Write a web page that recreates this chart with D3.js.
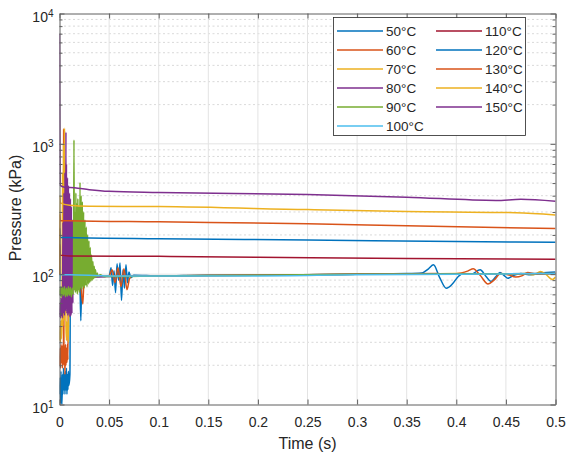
<!DOCTYPE html>
<html>
<head>
<meta charset="utf-8">
<script src="https://cdn.jsdelivr.net/npm/d3@7"></script>
<style>
  body { margin: 0; background: #fff; }
  text { font-family: "Liberation Sans", Arial, sans-serif; fill: #262626; }
</style>
</head>
<body>
<svg id="chart" width="568" height="457"></svg>
<script>
// legend labels and colours (MATLAB default order)
const temps = ["50", "60", "70", "80", "90", "100", "110", "120", "130", "140", "150"];
const colors = ["#0072BD", "#D95319", "#EDB120", "#7E2F8E", "#77AC30", "#4DBEEE",
                "#A2142F", "#0072BD", "#D95319", "#EDB120", "#7E2F8E"];

// [time (s), pressure (kPa)]
const s50 = [[0,12],[0.0005,16],[0.001,10.2],[0.0015,18],[0.002,11],[0.0025,10],[0.003,17],[0.0035,12],
  [0.004,19],[0.0045,13],[0.005,17],[0.0055,12],[0.006,18],[0.0065,13],[0.007,19],[0.0075,12],[0.008,17],
  [0.0085,13],[0.009,18],[0.0095,14],[0.0105,17],[0.011,100],[0.013,92],[0.015,108],[0.017,96],[0.019,104],
  [0.0205,90],[0.0215,44],[0.0225,98],[0.025,104],[0.028,95],[0.032,98],[0.04,96],[0.05,97],[0.052,112],
  [0.0535,82],[0.055,106],[0.0565,72],[0.058,120],[0.0595,90],[0.061,122],[0.0625,63],[0.064,108],
  [0.0655,78],[0.067,118],[0.0685,86],[0.07,104],[0.072,94],[0.075,98],[0.1,97],[0.15,98],[0.2,98],
  [0.25,99],[0.3,100],[0.35,101],[0.365,102],[0.372,110],[0.377,118],[0.383,95],[0.39,78],[0.396,84],
  [0.402,96],[0.407,101],[0.415,100],[0.424,108],[0.43,96],[0.435,88],[0.44,96],[0.444,103],[0.448,98],
  [0.452,93],[0.458,98],[0.465,101],[0.475,99],[0.485,102],[0.5,104]];
const s60 = [[0,20],[0.0005,27],[0.001,19],[0.0015,29],[0.002,21],[0.0025,28],[0.003,19],[0.0035,29],
  [0.004,20],[0.0042,1300],[0.0045,22],[0.005,28],[0.0055,17],[0.006,29],[0.0065,20],[0.007,27],[0.0075,21],
  [0.008,29],[0.0085,22],[0.009,100],[0.011,90],[0.013,115],[0.015,95],[0.018,105],[0.021,92],[0.0235,59],
  [0.025,100],[0.03,97],[0.04,96],[0.05,97],[0.053,108],[0.056,86],[0.059,112],[0.062,80],[0.065,110],
  [0.068,76],[0.0705,92],[0.073,97],[0.1,97],[0.2,98],[0.3,100],[0.38,101],[0.395,100],[0.405,102],
  [0.412,106],[0.417,110],[0.424,98],[0.432,84],[0.438,90],[0.445,101],[0.452,99],[0.46,95],[0.466,97],
  [0.472,103],[0.48,100],[0.5,101]];
const s70 = [[0,31],[0.0005,40],[0.001,30],[0.0015,44],[0.002,32],[0.0025,42],[0.003,600],[0.0035,40],
  [0.004,1000],[0.0045,44],[0.005,1320],[0.0055,50],[0.006,700],[0.0065,40],[0.007,31],[0.0075,43],
  [0.008,34],[0.0085,42],[0.009,30],[0.0095,100],[0.012,95],[0.015,104],[0.02,98],[0.03,97],[0.05,97],
  [0.1,97],[0.2,98],[0.3,100],[0.4,101],[0.45,100],[0.47,101],[0.478,99],[0.485,105],[0.49,100],
  [0.497,91],[0.5,95]];
const s80 = [[0,47],[0.0005,60],[0.001,46],[0.0015,66],[0.002,48],[0.0025,64],[0.003,46],[0.0035,250],
  [0.004,50],[0.0045,420],[0.005,48],[0.0055,600],[0.006,52],[0.0065,1230],[0.0068,55],[0.007,700],
  [0.0075,50],[0.008,550],[0.0085,48],[0.009,480],[0.0095,50],[0.01,420],[0.0105,47],[0.011,380],
  [0.0115,48],[0.012,330],[0.0125,50],[0.013,260],[0.0135,60],[0.014,180],[0.0145,90],[0.015,100],
  [0.02,96],[0.03,95],[0.05,96],[0.1,97],[0.2,98],[0.3,100],[0.5,101]];
const s90 = [[0,70],[0.0005,78],[0.001,68],[0.0015,80],[0.002,67],[0.003,79],[0.004,69],[0.005,80],
  [0.006,67],[0.007,78],[0.008,68],[0.009,80],[0.01,69],[0.011,79],[0.012,67],[0.013,78],[0.014,70],
  [0.0146,1070],[0.015,75],[0.0155,300],[0.016,72],[0.0165,420],[0.017,74],[0.0175,350],[0.018,70],
  [0.0185,380],[0.019,75],[0.0195,330],[0.02,72],[0.0207,505],[0.0212,78],[0.0218,400],[0.0225,76],
  [0.023,360],[0.0237,80],[0.0243,300],[0.025,78],[0.0257,260],[0.0263,82],[0.027,230],[0.0277,80],
  [0.0283,200],[0.029,84],[0.0297,180],[0.0303,86],[0.031,160],[0.0317,88],[0.0323,140],[0.033,90],
  [0.0337,125],[0.0343,92],[0.035,115],[0.0357,94],[0.0363,108],[0.037,95],[0.038,102],[0.039,96],
  [0.041,99],[0.045,96],[0.05,96],[0.1,97],[0.2,98],[0.3,100],[0.5,101]];
const s100 = [[0,115],[0.0004,89],[0.0008,100],[0.002,99],[0.01,99],[0.05,97],[0.1,97],[0.2,97],
  [0.3,99],[0.4,100],[0.5,101]];
const s110 = [[0,100],[0.0003,170],[0.0008,140],[0.01,138],[0.1,137],[0.2,135],[0.35,132],[0.5,130]];
const s120 = [[0,100],[0.0003,225],[0.0008,192],[0.01,191],[0.1,187],[0.25,183],[0.4,178],[0.5,176]];
const s130 = [[0,100],[0.0003,290],[0.0008,258],[0.01,257],[0.1,252],[0.25,244],[0.35,235],[0.5,224]];
const s140 = [[0,100],[0.0003,400],[0.0008,352],[0.01,338],[0.03,332],[0.1,330],[0.25,313],[0.35,303],
  [0.46,296],[0.5,285]];
const s150 = [[0,7000],[0.0003,1500],[0.0007,480],[0.005,465],[0.015,460],[0.03,445],[0.05,432],
  [0.1,423],[0.25,408],[0.35,390],[0.44,368],[0.465,375],[0.5,362]];
const series = [s50, s60, s70, s80, s90, s100, s110, s120, s130, s140, s150];

const xTicks = [0, 0.05, 0.1, 0.15, 0.2, 0.25, 0.3, 0.35, 0.4, 0.45, 0.5];
const xTickLabels = ["0", "0.05", "0.1", "0.15", "0.2", "0.25", "0.3", "0.35", "0.4", "0.45", "0.5"];
const yTicks = [10, 100, 1000, 10000];
const yTickExp = ["1", "2", "3", "4"];

const svg = d3.select("#chart");
const L = 59.5, R = 555.5, T = 13.5, B = 404.5;
const x = d3.scaleLinear().domain([0, 0.5]).range([L, R]);
const y = d3.scaleLog().domain([10, 10000]).range([B, T]);
const yMinor = y.ticks().filter(v => yTicks.indexOf(v) < 0);
const axisCol = "#5f5f5f";

// grid
const grid = svg.append("g");
grid.selectAll(".mg").data(yMinor).join("line")
  .attr("x1", L).attr("x2", R).attr("y1", d => y(d)).attr("y2", d => y(d))
  .attr("stroke", "#cfcfcf").attr("stroke-width", 0.8).attr("stroke-dasharray", "2,2.5");
grid.selectAll(".gx").data(xTicks.slice(1, -1)).join("line")
  .attr("x1", d => x(d)).attr("x2", d => x(d)).attr("y1", T).attr("y2", B)
  .attr("stroke", "#e3e3e3").attr("stroke-width", 1);
grid.selectAll(".gy").data(yTicks.slice(1, -1)).join("line")
  .attr("x1", L).attr("x2", R).attr("y1", d => y(d)).attr("y2", d => y(d))
  .attr("stroke", "#e3e3e3").attr("stroke-width", 1);

// lines
svg.append("clipPath").attr("id", "clip").append("rect")
  .attr("x", L).attr("y", T).attr("width", R - L).attr("height", B - T);
const line = d3.line().x(d => x(d[0])).y(d => y(d[1])).curve(d3.curveMonotoneX);
svg.append("g").attr("clip-path", "url(#clip)")
  .selectAll("path").data(series).join("path")
  .attr("d", line).attr("fill", "none")
  .attr("stroke", (d, i) => colors[i]).attr("stroke-width", 1.5)
  .attr("stroke-linejoin", "round");

// axes
function style(g) {
  g.select(".domain").attr("stroke", axisCol);
  g.selectAll(".tick line").attr("stroke", axisCol);
  g.selectAll(".tick text").attr("fill", "#262626");
}
svg.append("g").attr("transform", `translate(0,${B})`)
  .call(d3.axisBottom(x).tickValues(xTicks).tickFormat((d, i) => xTickLabels[i])
    .tickSizeInner(-5).tickSizeOuter(0).tickPadding(13))
  .call(style)
  .call(g => g.selectAll("text").attr("font-size", "14px").attr("font-family", null));
svg.append("g").attr("transform", `translate(0,${T})`)
  .call(d3.axisTop(x).tickValues(xTicks).tickFormat("").tickSizeInner(-5).tickSizeOuter(0))
  .call(style);
svg.append("g").attr("transform", `translate(${L},0)`)
  .call(d3.axisLeft(y).tickValues(yTicks).tickFormat("").tickSizeInner(-5).tickSizeOuter(0).tickPadding(6))
  .call(style)
  .call(g => g.selectAll(".tick text").each(function(d, i) {
    const t = d3.select(this).attr("font-size", "14px").attr("font-family", null).attr("dy", "0.55em");
    t.append("tspan").text("10");
    t.append("tspan").attr("dy", "-5").attr("font-size", "10px").text(yTickExp[i]);
  }));
svg.append("g").attr("transform", `translate(${L},0)`)
  .call(d3.axisLeft(y).tickValues(yMinor).tickFormat("").tickSizeInner(-3).tickSizeOuter(0))
  .call(style).call(g => g.select(".domain").remove());
svg.append("g").attr("transform", `translate(${R},0)`)
  .call(d3.axisRight(y).tickValues(yTicks).tickFormat("").tickSizeInner(-5).tickSizeOuter(0))
  .call(style);
svg.append("g").attr("transform", `translate(${R},0)`)
  .call(d3.axisRight(y).tickValues(yMinor).tickFormat("").tickSizeInner(-3).tickSizeOuter(0))
  .call(style).call(g => g.select(".domain").remove());

// axis titles
svg.append("text").attr("x", (L + R) / 2).attr("y", 449).attr("text-anchor", "middle")
  .attr("font-size", "16px").text("Time (s)");
svg.append("text").attr("transform", "translate(21,208) rotate(-90)").attr("text-anchor", "middle")
  .attr("font-size", "16px").text("Pressure (kPa)");

// legend
const lg = svg.append("g");
lg.append("rect").attr("x", 333.5).attr("y", 17.5).attr("width", 192).attr("height", 118)
  .attr("fill", "#fff").attr("stroke", "#262626").attr("stroke-width", 0.8);
const items = lg.selectAll(".item").data(temps).join("g")
  .attr("transform", (d, i) => `translate(${i < 6 ? 337 : 436},${31 + (i < 6 ? i : i - 6) * 19})`);
items.append("line").attr("x1", 0).attr("x2", 46).attr("y1", 0).attr("y2", 0)
  .attr("stroke", (d, i) => colors[i]).attr("stroke-width", 1.5);
items.append("text").attr("x", 49).attr("y", 5).attr("font-size", "13.5px").text(d => d + "\u00B0C");
</script>
</body>
</html>
